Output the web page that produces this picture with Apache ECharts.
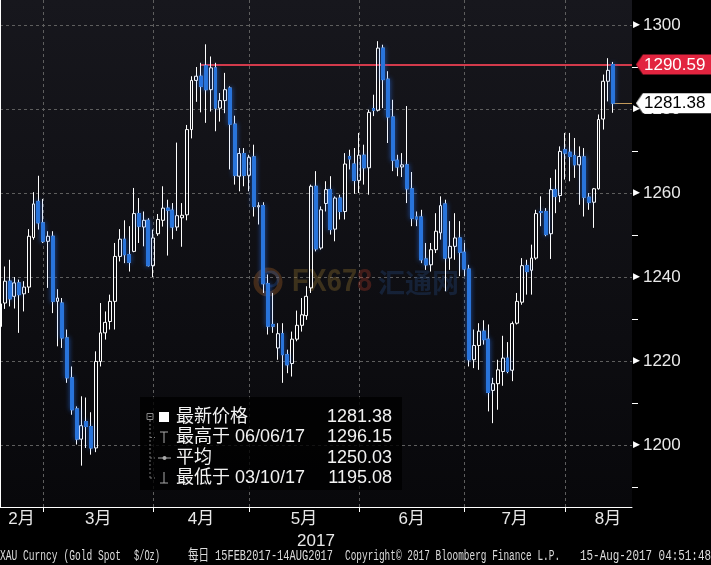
<!DOCTYPE html>
<html><head><meta charset="utf-8">
<script src="https://cdn.jsdelivr.net/npm/echarts@6/dist/echarts.min.js"></script>
<style>html,body{margin:0;padding:0;background:#000;}#c{width:711px;height:565px;}</style>
</head><body><div id="c"></div>
<script>
// ---- data (XAU Curncy daily, 15 Feb 2017 - 14 Aug 2017) ----
const openP = [1228.2,1233.8,1239.0,1235.4,1238.6,1236.0,1237.6,1249.4,1258.0,1252.9,
1248.5,1249.7,1234.2,1233.8,1225.5,1216.0,1208.6,1201.4,1205.6,1204.4,
1199.3,1219.9,1226.7,1229.4,1234.2,1244.9,1249.0,1245.3,1246.1,1255.1,
1251.9,1253.5,1242.7,1250.3,1253.5,1256.4,1255.9,1251.9,1254.1,1254.8,
1275.1,1286.8,1287.8,1290.3,1284.6,1289.8,1280.2,1282.0,1285.0,1276.4,
1264.0,1269.4,1264.2,1268.6,1256.7,1257.0,1238.4,1228.7,1223.1,1226.5,
1221.5,1219.4,1225.2,1228.5,1230.8,1237.4,1261.6,1246.9,1257.5,1260.8,
1251.4,1258.8,1255.6,1268.7,1266.9,1263.0,1269.0,1266.0,1280.1,1279.7,
1294.5,1287.1,1278.1,1267.8,1266.2,1266.7,1261.0,1254.3,1254.3,1244.3,
1242.9,1246.5,1250.5,1257.4,1244.5,1247.3,1249.3,1245.9,1241.9,1220.3,
1223.7,1227.1,1225.2,1213.0,1214.6,1217.5,1220.7,1217.8,1229.0,1234.0,
1242.7,1241.6,1244.5,1255.6,1255.6,1250.3,1260.8,1259.4,1270.3,1269.7,
1268.9,1266.7,1268.6,1259.0,1257.8,1261.0,1277.6,1286.6,1290.59];
const closeP = [1233.6,1239.0,1234.8,1238.6,1235.8,1237.6,1249.7,1257.4,1252.9,1248.5,
1249.7,1234.2,1235.0,1225.5,1216.0,1208.4,1201.4,1204.6,1204.4,1199.3,
1219.9,1226.7,1229.2,1234.2,1244.9,1249.0,1245.3,1243.5,1255.1,1252.1,
1253.5,1242.7,1249.3,1253.7,1256.4,1255.9,1251.9,1254.6,1254.7,1275.1,
1286.8,1287.8,1285.4,1284.6,1289.8,1280.2,1282.0,1284.6,1276.4,1264.2,
1269.4,1264.2,1268.5,1256.8,1257.0,1238.4,1228.3,1228.3,1226.5,1221.5,
1219.1,1225.2,1228.5,1231.0,1235.4,1261.6,1246.7,1256.0,1260.8,1251.3,
1258.8,1255.6,1266.9,1268.1,1263.0,1269.0,1266.0,1279.2,1279.7,1294.5,
1287.0,1278.1,1267.8,1266.2,1266.7,1261.0,1254.0,1253.8,1244.1,1242.9,
1246.5,1250.9,1257.0,1244.5,1247.3,1249.3,1245.9,1241.9,1220.3,1223.7,
1227.1,1225.1,1212.5,1214.6,1217.9,1220.7,1217.5,1228.9,1234.2,1242.7,
1241.3,1244.5,1255.1,1255.4,1250.1,1260.8,1259.2,1269.9,1269.5,1268.7,
1266.7,1268.7,1259.0,1257.8,1261.0,1277.5,1286.6,1289.2,1281.38];
const lowP = [1216.8,1232.4,1233.0,1232.5,1226.7,1231.8,1236.2,1248.9,1251.3,1248.1,
1237.4,1231.4,1223.5,1223.1,1214.8,1207.2,1200.1,1195.08,1199.3,1197.7,
1198.3,1218.7,1225.1,1227.5,1227.5,1243.7,1243.3,1241.3,1245.9,1248.1,
1247.3,1242.5,1240.0,1249.8,1252.0,1245.1,1249.0,1251.0,1247.2,1253.5,
1273.0,1281.7,1279.2,1276.7,1279.4,1274.7,1277.0,1279.0,1265.6,1262.0,
1260.4,1261.6,1260.4,1254.4,1252.5,1236.2,1226.3,1226.7,1220.3,1214.8,
1217.1,1216.3,1224.7,1227.0,1229.8,1236.2,1246.1,1246.5,1255.6,1250.1,
1248.5,1253.7,1253.7,1265.6,1259.8,1260.0,1262.0,1259.6,1278.3,1279.4,
1280.2,1271.9,1265.2,1264.0,1263.8,1257.6,1252.1,1252.1,1243.3,1241.7,
1241.3,1245.7,1248.9,1236.6,1241.7,1244.1,1240.2,1240.2,1218.7,1218.3,
1217.9,1223.9,1208.0,1205.2,1208.4,1214.1,1217.1,1215.2,1228.7,1233.4,
1235.8,1235.8,1244.1,1252.1,1249.7,1244.3,1255.2,1257.8,1263.2,1262.8,
1263.6,1257.2,1254.4,1256.0,1251.7,1260.8,1275.1,1281.8,1279.1];
const highP = [1236.0,1242.5,1244.1,1240.0,1239.4,1239.0,1251.4,1260.2,1264.1,1258.6,
1250.9,1250.9,1237.1,1235.0,1227.5,1218.7,1209.2,1211.6,1211.3,1207.8,
1222.3,1233.8,1231.8,1235.8,1248.1,1251.4,1253.5,1252.1,1261.2,1258.8,
1255.6,1254.0,1251.3,1255.0,1261.6,1258.4,1257.6,1272.0,1257.6,1276.2,
1287.8,1290.0,1291.0,1295.4,1292.5,1291.0,1283.8,1288.6,1285.4,1278.4,
1270.7,1270.7,1269.1,1271.5,1257.8,1257.8,1240.6,1236.2,1229.0,1229.0,
1222.7,1227.0,1232.0,1235.0,1237.8,1262.0,1265.2,1256.8,1262.8,1264.0,
1259.2,1259.6,1269.5,1270.3,1270.7,1274.3,1271.5,1279.8,1283.4,1296.15,
1295.3,1289.0,1282.2,1269.1,1269.5,1280.7,1265.0,1255.6,1256.0,1248.1,
1248.1,1255.2,1259.2,1258.4,1253.3,1255.2,1253.3,1248.1,1242.9,1227.5,
1229.0,1229.7,1228.7,1216.0,1220.3,1226.0,1224.5,1229.4,1236.2,1244.5,
1244.1,1247.7,1256.0,1259.2,1256.4,1263.6,1265.6,1271.1,1274.3,1274.3,
1273.1,1271.1,1270.7,1260.0,1261.2,1278.7,1288.2,1292.1,1291.2];

const yTicks = [1200, 1220, 1240, 1260, 1280, 1300];
const yMinorTicks = [1190, 1210, 1230, 1250, 1270, 1290];
const monthNames = ['2月', '3月', '4月', '5月', '6月', '7月', '8月'];
const monthLabelPos = [4.5, 20.5, 42, 63.5, 86, 107.5, 127];   // trading-day index
const monthEndIdx = [9, 32, 52, 75, 97, 118];                   // last trading day of month
const yearLabel = '2017';
const refLevel = 1290.59, refStartIdx = 42;
const lastPrice = 1281.38;
const statLabels = ['最新价格', '最高于 06/06/17', '平均', '最低于 03/10/17'];
const statValues = ['1281.38', '1296.15', '1250.03', '1195.08'];
const footerParts = ['XAU Curncy (Gold Spot', '$/Oz)', '每日', '15FEB2017-14AUG2017', 'Copyright© 2017 Bloomberg Finance L.P.', '15-Aug-2017 04:51:48'];

// trading days (weekdays) 15 Feb 2017 .. 14 Aug 2017, plus empty slots on the right
const dates = [];
for (let d = new Date(Date.UTC(2017, 1, 15)); d <= new Date(Date.UTC(2017, 7, 14)); d.setUTCDate(d.getUTCDate() + 1)) {
  const wd = d.getUTCDay();
  if (wd !== 0 && wd !== 6) dates.push(d.toISOString().slice(0, 10));
}
const PAD = 4;
const categories = dates.concat(Array.from({length: PAD}, (_, k) => 'pad' + k));
const LAST_CAT = categories.length - 1;

const Y_MIN = 1185.24, Y_MAX = 1305.95;
const FONT = '"Liberation Sans", "Noto Sans CJK SC", sans-serif';
const BLUE = '#2a74d8';

const candles = openP.map((o, i) => [o, closeP[i], lowP[i], highP[i]]);
const downBodies = openP.map((o, i) => closeP[i] < o ? [o, closeP[i], closeP[i], o] : '-');

function makeTag(color) {
  const c = document.createElement('canvas');
  c.width = 90; c.height = 20;
  const g = c.getContext('2d');
  g.fillStyle = color;
  g.beginPath(); g.moveTo(0, 10); g.lineTo(6, 0); g.lineTo(90, 0); g.lineTo(90, 20); g.lineTo(6, 20); g.closePath(); g.fill();
  return c;
}
const redTag = makeTag('#e2243f');
const whiteTag = makeTag('#ffffff');

// legend rows
const rowY = [417, 437.5, 458, 478];
const legendEls = [
  {type: 'rect', shape: {x: 140, y: 397, width: 262, height: 93}, style: {fill: 'rgba(0,0,0,0.8)'}},
  {type: 'rect', shape: {x: 147, y: 413.5, width: 6, height: 6}, style: {fill: 'none', stroke: '#888', lineWidth: 1}},
  {type: 'line', shape: {x1: 148.5, y1: 416.5, x2: 151.5, y2: 416.5}, style: {stroke: '#888'}},
  {type: 'line', shape: {x1: 150, y1: 420, x2: 150, y2: 480}, style: {stroke: '#777', lineDash: [2, 2]}},
  {type: 'rect', shape: {x: 159, y: 412, width: 10, height: 10}, style: {fill: '#fff'}},
  {type: 'line', shape: {x1: 160, y1: 432, x2: 168, y2: 432}, style: {stroke: '#aaa'}},
  {type: 'line', shape: {x1: 164, y1: 432, x2: 164, y2: 443}, style: {stroke: '#aaa'}},
  {type: 'line', shape: {x1: 158, y1: 458, x2: 171, y2: 458}, style: {stroke: '#aaa'}},
  {type: 'circle', shape: {cx: 164.5, cy: 458, r: 2}, style: {fill: '#aaa'}},
  {type: 'line', shape: {x1: 164, y1: 472, x2: 164, y2: 483}, style: {stroke: '#aaa'}},
  {type: 'line', shape: {x1: 160, y1: 483, x2: 168, y2: 483}, style: {stroke: '#aaa'}}
];
rowY.forEach((y, k) => {
  if (k > 0) legendEls.push({type: 'line', shape: {x1: 150, y1: y, x2: 155, y2: y}, style: {stroke: '#777', lineDash: [2, 2]}});
  legendEls.push({type: 'text', x: 176, y: y, style: {text: statLabels[k], fill: '#f2f2f2', font: '18px ' + FONT, verticalAlign: 'middle'}});
  legendEls.push({type: 'text', x: 392, y: y, style: {text: statValues[k], fill: '#f2f2f2', font: '18px ' + FONT, align: 'right', verticalAlign: 'middle'}});
});
legendEls.forEach(e => { e.z = 100; e.silent = true; });

// footer
const footerX = [0, 134, 188, 215, 345, 580];
const footerW = [121, 26, 21, 118, 215, 131];
const footerEls = footerParts.map((t, k) => {
  const isCJK = /[\u4e00-\u9fff]/.test(t);
  const natural = isCJK ? t.length * 10.5 : t.length * 6.3;
  return {type: 'text', z: 100, silent: true, x: footerX[k], y: 556, scaleX: footerW[k] / natural, scaleY: 1.4,
    style: {text: t, fill: '#dcdcdc', font: '10.5px "Liberation Mono", "Noto Sans CJK SC", monospace', verticalAlign: 'middle'}};
});

// watermark
const watermark = [
  {type: 'circle', shape: {cx: 268, cy: 282, r: 12}, style: {fill: 'none', stroke: 'rgba(190,110,40,0.3)', lineWidth: 5}},
  {type: 'circle', shape: {cx: 271, cy: 279, r: 7}, style: {fill: 'none', stroke: 'rgba(40,90,170,0.3)', lineWidth: 3}},
  {type: 'text', x: 292, y: 282, scaleX: 0.85, style: {text: '{a|FX67}{b|8}', verticalAlign: 'middle',
    rich: {a: {fill: 'rgba(160,125,50,0.32)', font: 'bold 32px ' + FONT}, b: {fill: 'rgba(160,55,40,0.36)', font: 'bold 32px ' + FONT}}}},
  {type: 'text', x: 378, y: 283, style: {text: '汇通网', fill: 'rgba(40,80,140,0.3)', font: 'bold 27px "Noto Sans CJK SC"', verticalAlign: 'middle'}}
];
watermark.forEach(e => { e.z = 2; e.silent = true; });

const chart = echarts.init(document.getElementById('c'), null, {renderer: 'canvas'});
const isMonthEnd = idx => monthEndIdx.indexOf(idx) >= 0;

chart.setOption({
  animation: false,
  backgroundColor: '#000',
  grid: {left: 0, right: 79, top: 0, bottom: 58, show: true, borderWidth: 0,
    outerBounds: {left: -200, right: -200, top: -200, bottom: -200},
    backgroundColor: new echarts.graphic.LinearGradient(0, 0, 0, 1, [{offset: 0, color: '#17171d'}, {offset: 1, color: '#08080b'}])},
  xAxis: [{
    type: 'category', data: categories, boundaryGap: false, position: 'bottom',
    axisLine: {show: true, onZero: false, lineStyle: {color: '#ffffff', width: 1}},
    axisTick: {show: true, interval: isMonthEnd, length: 5, lineStyle: {color: '#ffffff'}},
    splitLine: {show: true, interval: isMonthEnd, lineStyle: {color: '#5e5e5e', width: 1, type: [3, 3]}},
    axisLabel: {show: false}
  }, {
    type: 'value', min: 0, max: LAST_CAT, position: 'bottom',
    axisLine: {show: false}, axisTick: {show: false}, splitLine: {show: false},
    axisLabel: {customValues: monthLabelPos, margin: 4, color: '#e8e8e8', fontSize: 17, fontFamily: FONT,
      formatter: v => monthNames[monthLabelPos.indexOf(v)]},
    name: yearLabel, nameLocation: 'middle', nameGap: 22,
    nameTextStyle: {color: '#e8e8e8', fontSize: 17, fontFamily: FONT}
  }],
  yAxis: [{
    type: 'value', position: 'right', min: Y_MIN, max: Y_MAX,
    axisLine: {show: true, lineStyle: {color: '#ffffff', width: 1}},
    axisTick: {show: false},
    splitLine: {show: true, showMinLine: false, showMaxLine: false, lineStyle: {color: '#5e5e5e', width: 1, type: [3, 3]}},
    axisLabel: {customValues: yTicks, margin: 1,
      formatter: v => '{t|▶}{v|' + v + '}',
      rich: {t: {color: '#ffffff', fontSize: 9, padding: [0, 3, 0, 0], fontFamily: '"DejaVu Sans"'},
             v: {color: '#e8e8e8', fontSize: 17, fontFamily: FONT}}}
  }, {
    type: 'value', position: 'right', min: Y_MIN, max: Y_MAX, z: 5,
    axisLine: {show: false},
    axisTick: {show: true, customValues: yMinorTicks, length: 6, lineStyle: {color: '#ffffff'}},
    splitLine: {show: false},
    axisLabel: {customValues: [refLevel, lastPrice], margin: 4,
      formatter: v => Math.abs(v - refLevel) < 1e-6 ? '{r|' + v.toFixed(2) + '}' : '{w|' + v.toFixed(2) + '}',
      rich: {
        r: {color: '#ffffff', fontSize: 17, fontFamily: FONT, lineHeight: 17, padding: [2, 6, 1, 8], backgroundColor: {image: redTag}},
        w: {color: '#000000', fontSize: 17, fontFamily: FONT, lineHeight: 17, padding: [2, 6, 1, 8], backgroundColor: {image: whiteTag}}
      }}
  }],
  graphic: [].concat(watermark, legendEls, footerEls),
  series: [
    {
      type: 'candlestick', name: 'XAU', data: candles, barWidth: 3.4, clip: true, z: 10,
      itemStyle: {color: 'rgba(0,0,0,0)', color0: BLUE, borderColor: '#ffffff', borderColor0: '#ffffff', borderWidth: 1},
      markLine: {silent: true, symbol: ['none', 'none'], animation: false, label: {show: false},
        data: [
          [{coord: [refStartIdx, refLevel], lineStyle: {color: '#d23a4b', width: 2, type: 'solid'}}, {coord: [LAST_CAT, refLevel]}],
          [{coord: [candles.length - 1, lastPrice], lineStyle: {color: '#c39a5a', width: 1, type: 'solid'}}, {coord: [LAST_CAT, lastPrice]}]
        ]}
    }, {
      type: 'candlestick', name: 'down', data: downBodies, barWidth: 3.4, clip: true, z: 11,
      itemStyle: {color: BLUE, color0: BLUE, borderColor: BLUE, borderColor0: BLUE, borderWidth: 1,
        shadowBlur: 5, shadowColor: 'rgba(40,120,255,0.55)'}
    }
  ]
});
</script></body></html>
